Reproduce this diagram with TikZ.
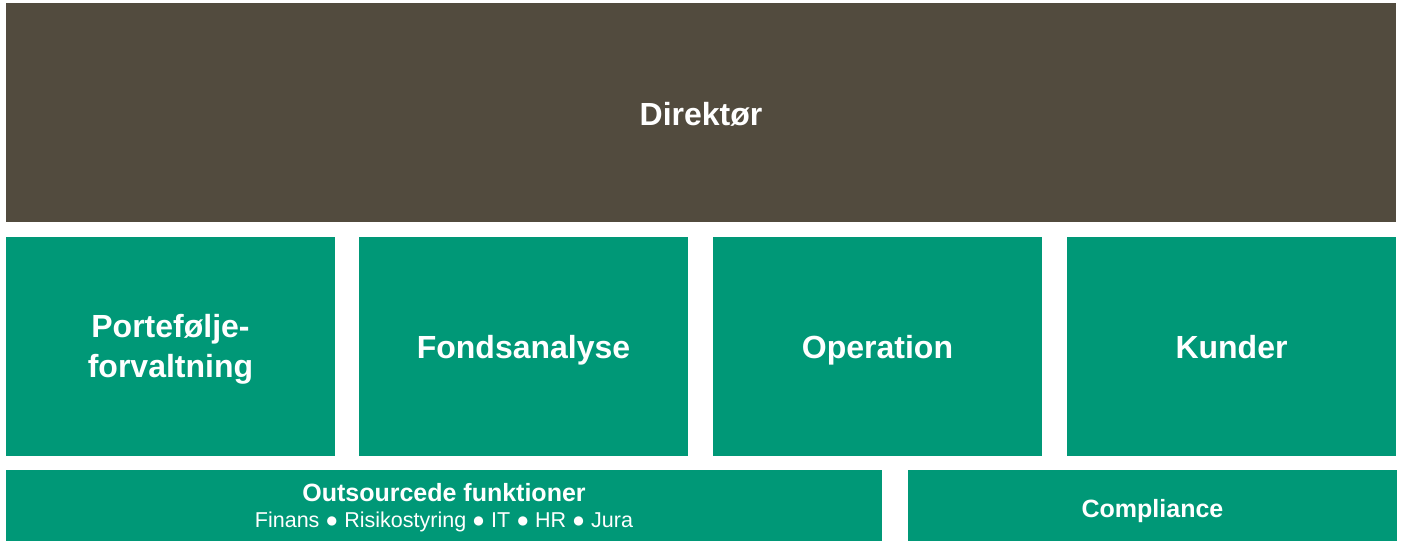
\documentclass[tikz,border=0pt]{standalone}
\usepackage{fontspec}
\setmainfont{Liberation Sans}
\definecolor{boardbrown}{HTML}{524B3E}
\definecolor{deptgreen}{HTML}{009877}
\begin{document}
\begin{tikzpicture}[x=1pt,y=-1pt,
  box/.style={inner sep=0pt, outer sep=0pt, text=white, align=center},
  topbox/.style={box, fill=boardbrown, minimum width=1390pt, minimum height=219pt,
     font=\fontsize{32}{38}\selectfont\bfseries, text height=26pt, text depth=0pt},
  deptbox/.style={box, fill=deptgreen, minimum width=329pt, minimum height=219pt,
     font=\fontsize{32}{40}\selectfont\bfseries},
  onedept/.style={deptbox, text height=24pt, text depth=0pt},
  lowbox/.style={box, fill=deptgreen, minimum height=71pt}
]
\useasboundingbox (0,0) rectangle (1401,541);
\node[topbox] (dir) at (701,112.5) {Direktør};
\node[deptbox, text height=0pt, text depth=18.4pt] (pf) at (170.5,346.5)
  {\begin{tabular}[t]{@{}c@{}}Portefølje-\\forvaltning\end{tabular}};
\node[onedept] (fa) at (523.5,346.5) {Fondsanalyse};
\node[onedept] (op) at (877.5,346.5) {Operation};
\node[onedept] (ku) at (1231.5,346.5) {Kunder};
\node[lowbox, minimum width=876pt, font=\fontsize{21.5}{26.5}\selectfont, text height=0pt, text depth=9pt] (out) at (444,505.5)
  {\begin{tabular}[t]{@{}c@{}}{\fontsize{25}{26.5}\selectfont\bfseries Outsourcede funktioner}\\
   Finans ● Risikostyring ● IT ● HR ● Jura\end{tabular}};
\node[lowbox, minimum width=489pt, font=\fontsize{25}{26}\selectfont\bfseries, text height=23pt, text depth=0pt] (co) at (1152.5,505.5) {Compliance};
\end{tikzpicture}
\end{document}
